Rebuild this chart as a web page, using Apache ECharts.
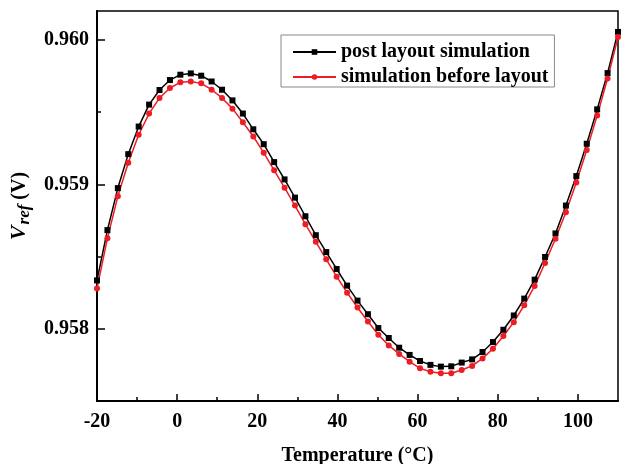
<!DOCTYPE html>
<html lang="en">
<head>
<meta charset="UTF-8">
<title>Vref vs Temperature</title>
<script src="https://cdn.jsdelivr.net/npm/echarts@6/dist/echarts.min.js"></script>
<style>
    * { margin: 0; padding: 0; }
    body { background: #fff; }
    #box { width: 622px; height: 464px; }
</style>
</head>
<body>
<div id="box"></div>
<script>
    // temperature points (°C)
    var temps = [-20, -17.4, -14.8, -12.2, -9.6, -7, -4.4, -1.8, 0.8, 3.4,
        6, 8.6, 11.2, 13.8, 16.4, 19, 21.6, 24.2, 26.8, 29.4,
        32, 34.6, 37.2, 39.8, 42.4, 45, 47.6, 50.2, 52.8, 55.4,
        58, 60.6, 63.2, 65.8, 68.4, 71, 73.6, 76.2, 78.8, 81.4,
        84, 86.6, 89.2, 91.8, 94.4, 97, 99.6, 102.2, 104.8, 107.4, 110];

    var postLayout = [0.958335, 0.958683, 0.958974, 0.959209, 0.959400, 0.959552, 0.959653, 0.959722, 0.959759, 0.959768,
        0.959752, 0.959712, 0.959655, 0.959581, 0.959490, 0.959381, 0.959278, 0.959154, 0.959034, 0.958908,
        0.958779, 0.958648, 0.958531, 0.958414, 0.958299, 0.958195, 0.958101, 0.958005, 0.957936, 0.957869,
        0.957819, 0.957777, 0.957750, 0.957738, 0.957740, 0.957766, 0.957788, 0.957839, 0.957908, 0.957993,
        0.958092, 0.958209, 0.958340, 0.958497, 0.958660, 0.958853, 0.959057, 0.959281, 0.959519, 0.959770,
        0.960055];

    var beforeLayout = [0.958278, 0.958626, 0.958917, 0.959150, 0.959343, 0.959490, 0.959598, 0.959667, 0.959706, 0.959712,
        0.959699, 0.959655, 0.959598, 0.959524, 0.959430, 0.959331, 0.959219, 0.959097, 0.958977, 0.958853,
        0.958724, 0.958602, 0.958481, 0.958361, 0.958250, 0.958147, 0.958050, 0.957959, 0.957885, 0.957826,
        0.957772, 0.957726, 0.957703, 0.957692, 0.957692, 0.957715, 0.957743, 0.957795, 0.957862, 0.957950,
        0.958046, 0.958163, 0.958297, 0.958455, 0.958623, 0.958807, 0.959012, 0.959237, 0.959476, 0.959733,
        0.960020];

    var xMajor = [-20, 0, 20, 40, 60, 80, 100];
    var xMinor = [-10, 10, 30, 50, 70, 90];
    var yMajor = [0.958, 0.959, 0.960];
    var yMinor = [0.9585, 0.9595];

    function pairs(xs, ys) {
        var out = [];
        for (var i = 0; i < xs.length; i++) out.push([xs[i], ys[i]]);
        return out;
    }

    var font = '"Liberation Serif", "Times New Roman", serif';
    var lbl = { fontFamily: font, fontWeight: 'bold', fontSize: 20, color: '#000' };

    var option = {
        backgroundColor: '#fff',
        animation: false,
        grid: {
            left: 97, right: 4, top: 11, bottom: 63,
            containLabel: false, outerBoundsMode: 'none',
            show: true, borderColor: '#000', borderWidth: 1.5
        },
        legend: {
            left: 281, top: 35,
            orient: 'vertical',
            itemWidth: 43, itemHeight: 7, itemGap: 5,
            padding: [7, 6, 0, 11],
            borderColor: '#888', borderWidth: 1,
            textStyle: { fontFamily: font, fontWeight: 'bold', fontSize: 20, lineHeight: 20, color: '#000' },
            data: ['post layout simulation', 'simulation before layout']
        },
        xAxis: [{
            type: 'value', min: -20, max: 110,
            position: 'bottom',
            name: 'Temperature (°C)', nameLocation: 'middle', nameGap: 45,
            nameTextStyle: lbl,
            axisLine: { onZero: false, lineStyle: { color: '#000', width: 2 } },
            axisTick: { inside: true, length: 7, customValues: xMajor, lineStyle: { color: '#000', width: 1.5 } },
            axisLabel: Object.assign({ margin: 11, customValues: xMajor }, lbl),
            splitLine: { show: false }
        }, {
            type: 'value', min: -20, max: 110,
            position: 'bottom',
            axisLine: { show: false, onZero: false },
            axisTick: { inside: true, length: 4, customValues: xMinor, lineStyle: { color: '#000', width: 1.5 } },
            axisLabel: { show: false },
            splitLine: { show: false }
        }],
        yAxis: [{
            type: 'value', min: 0.9575, max: 0.9602,
            position: 'left',
            name: '{v|V}{s|ref}{n| (V)}', nameLocation: 'middle', nameGap: 53, nameRotate: 90,
            nameTextStyle: {
                rich: {
                    v: { fontFamily: font, fontStyle: 'italic', fontWeight: 'bold', fontSize: 22, color: '#000', lineHeight: 26 },
                    s: { fontFamily: font, fontStyle: 'italic', fontWeight: 'bold', fontSize: 17, color: '#000', lineHeight: 26, padding: [10, 0, 0, 1] },
                    n: { fontFamily: font, fontWeight: 'bold', fontSize: 20, color: '#000', lineHeight: 26 }
                }
            },
            axisLine: { onZero: false, lineStyle: { color: '#000', width: 2 } },
            axisTick: { inside: true, length: 8, customValues: yMajor, lineStyle: { color: '#000', width: 1.5 } },
            axisLabel: Object.assign({
                margin: 8, customValues: yMajor,
                formatter: function (v) { return v.toFixed(3); }
            }, lbl),
            splitLine: { show: false }
        }, {
            type: 'value', min: 0.9575, max: 0.9602,
            position: 'left',
            axisLine: { show: false, onZero: false },
            axisTick: { inside: true, length: 4, customValues: yMinor, lineStyle: { color: '#000', width: 1.5 } },
            axisLabel: { show: false },
            splitLine: { show: false }
        }],
        series: [{
            name: 'post layout simulation',
            type: 'line',
            data: pairs(temps, postLayout),
            symbol: 'rect', symbolSize: 6,
            itemStyle: { color: '#000' },
            lineStyle: { color: '#000', width: 1.5 },
            clip: false
        }, {
            name: 'simulation before layout',
            type: 'line',
            data: pairs(temps, beforeLayout),
            symbol: 'circle', symbolSize: 6,
            itemStyle: { color: '#ee1c24' },
            lineStyle: { color: '#ee1c24', width: 1.5 },
            clip: false
        }]
    };
    echarts.init(document.getElementById('box')).setOption(option);
</script>
</body>
</html>
